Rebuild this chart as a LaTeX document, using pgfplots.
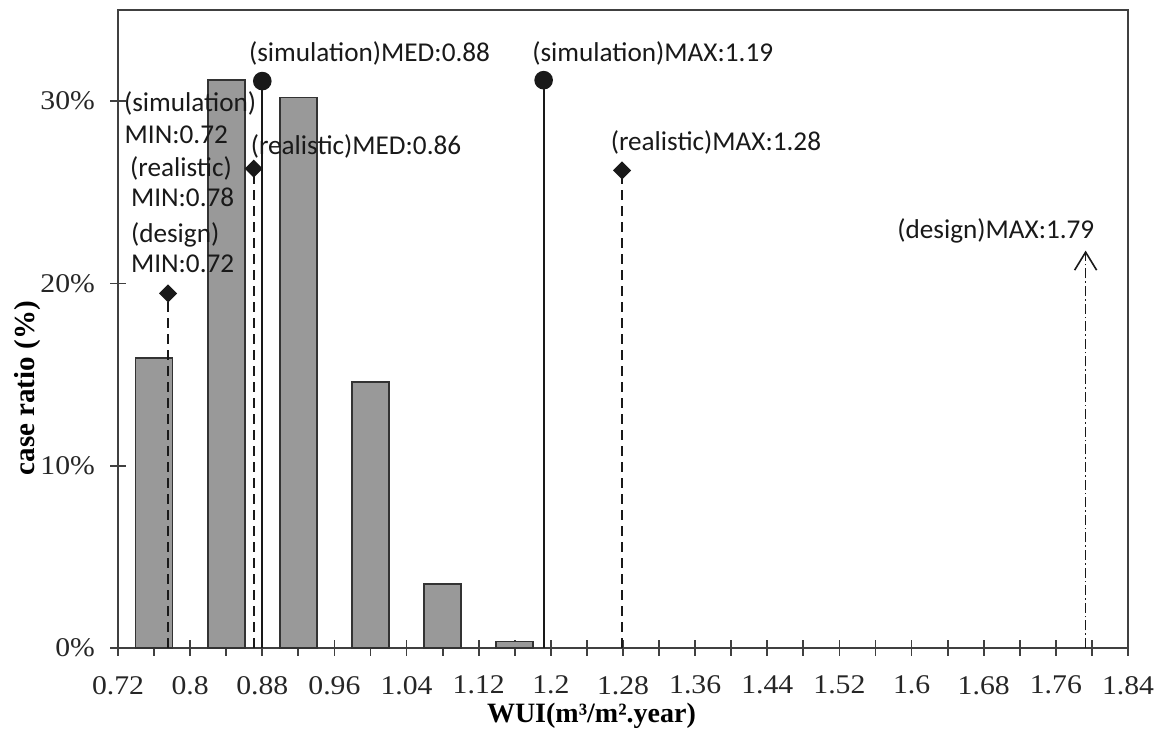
\documentclass[border=0pt]{standalone}
\usepackage{pgfplots}
\pgfplotsset{compat=1.18}
\usetikzlibrary{arrows.meta}
\usepackage{fontspec}
\setmainfont{Liberation Serif}
\newfontfamily\calib{Carlito}
\newfontfamily\tickfont{Liberation Serif}[FakeStretch=1.1]
\definecolor{barfill}{RGB}{153,153,153}
\definecolor{ink}{RGB}{25,25,25}
\tikzset{lab/.style={anchor=west, inner sep=0pt, text=ink, font=\calib\fontsize{13.6}{16}\selectfont}}
\begin{document}
\begin{tikzpicture}
\begin{axis}[
  at={(0,0)}, anchor=south west,
  width=505pt, height=319pt, scale only axis,
  xmin=0.72, xmax=1.84, ymin=0, ymax=35,
  axis line style={draw=black!75, line width=0.9pt},
  xtick={0.72,0.80,0.88,0.96,1.04,1.12,1.20,1.28,1.36,1.44,1.52,1.60,1.68,1.76,1.84},
  xticklabels={0.72,0.8,0.88,0.96,1.04,1.12,1.2,1.28,1.36,1.44,1.52,1.6,1.68,1.76,1.84},
  minor xtick={0.76,0.84,0.92,1.00,1.08,1.16,1.24,1.32,1.40,1.48,1.56,1.64,1.72,1.80},
  ytick={0,10,20,30}, yticklabels={0\%,10\%,20\%,30\%},
  xtick pos=bottom, ytick pos=left,
  tick align=center,
  major tick length=8pt, minor tick length=8pt,
  tick style={draw=black!75, line width=0.9pt},
  tick label style={font=\tickfont\fontsize{13.5}{15}\selectfont, text=black!85},
  xticklabel style={yshift=-6.5pt},
  yticklabel style={xshift=-4pt},
  clip=false,
]
\addplot[ybar, bar width=18.5pt, bar shift=0pt, fill=barfill, draw=black!80, line width=0.8pt]
  coordinates {(0.76,15.9) (0.84,31.15) (0.92,30.2) (1.00,14.6) (1.08,3.5) (1.16,0.36)};
% dashed stems with diamonds
\addplot[ink, line width=0.9pt, dash pattern=on 5pt off 3pt, mark=square*, mark size=2.74pt, mark options={solid, rotate=45}, mark indices={2}]
  coordinates {(0.7755,0) (0.7755,19.45)};
\addplot[ink, line width=0.9pt, dash pattern=on 5pt off 3pt, mark=square*, mark size=2.74pt, mark options={solid, rotate=45}, mark indices={2}]
  coordinates {(0.8705,0) (0.8705,26.3)};
\addplot[ink, line width=0.9pt, dash pattern=on 5pt off 3pt, mark=square*, mark size=2.74pt, mark options={solid, rotate=45}, mark indices={2}]
  coordinates {(1.279,0) (1.279,26.2)};
% solid stems with circles
\addplot[ink, line width=0.9pt, mark=*, mark size=4.2pt, mark indices={2}]
  coordinates {(0.880,0) (0.880,31.1)};
\addplot[ink, line width=0.9pt, mark=*, mark size=4.2pt, mark indices={2}]
  coordinates {(1.192,0) (1.192,31.15)};
% dash-dot arrow
\addplot[ink, line width=0.8pt, dash pattern=on 5pt off 1.5pt on 0.8pt off 1.5pt, -{Straight Barb[length=9pt,width=11pt,line width=0.8pt]}]
  coordinates {(1.793,0) (1.793,21.8)};
% labels
\node[lab] at (axis cs:0.8649,32.62) {(simulation)MED:0.88};
\node[lab] at (axis cs:1.179,32.62) {(simulation)MAX:1.19};
\node[lab] at (axis cs:0.8668,27.52) {(realistic)MED:0.86};
\node[lab] at (axis cs:1.266,27.76) {(realistic)MAX:1.28};
\node[lab] at (axis cs:1.5838,22.87) {(design)MAX:1.79};
\node[lab] at (axis cs:0.7263,29.9) {(simulation)};
\node[lab] at (axis cs:0.727,28.18) {MIN:0.72};
\node[lab] at (axis cs:0.733,26.3) {(realistic)};
\node[lab] at (axis cs:0.734,24.7) {MIN:0.78};
\node[lab] at (axis cs:0.734,22.65) {(design)};
\node[lab] at (axis cs:0.734,21.06) {MIN:0.72};
% axis titles
\node[rotate=90, inner sep=0pt, font=\bfseries\fontsize{14.5}{16}\selectfont] at ([xshift=-45pt]axis cs:0.72,14.25) {case ratio (\%)};
\node[inner sep=0pt, font=\bfseries\fontsize{14}{16}\selectfont] at ([yshift=-34pt]axis cs:1.245,0) {WUI(m³/m².year)};
\end{axis}
\pgfresetboundingbox
\useasboundingbox (-59pt,-42pt) rectangle (522pt,324pt);
\end{tikzpicture}
\end{document}
